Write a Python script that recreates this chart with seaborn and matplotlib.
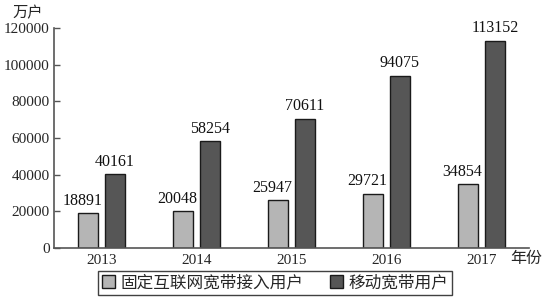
import matplotlib
matplotlib.use("Agg")
import matplotlib.pyplot as plt
import seaborn as sns
import pandas as pd

years = ["2013", "2014", "2015", "2016", "2017"]
fixed = [18891, 20048, 25947, 29721, 34854]
mobile = [40161, 58254, 70611, 94075, 113152]
series_names = ["固定互联网宽带接入用户", "移动宽带用户"]
yticks = [0, 20000, 40000, 60000, 80000, 100000, 120000]

sns.set_style("white")
plt.rcParams['font.family'] = ['Liberation Serif', 'Noto Sans CJK SC']

df = pd.DataFrame({
    "year": years * 2,
    "value": fixed + mobile,
    "series": [series_names[0]] * len(years) + [series_names[1]] * len(years),
})

fig = plt.figure(figsize=(5.48, 3.06), dpi=100)
ax = fig.add_axes([54/548, 1 - 248/306, 475/548, 220/306])

sns.barplot(data=df, x="year", y="value", hue="series", order=years,
            hue_order=series_names, palette=["#b5b5b5", "#565656"],
            width=0.56, gap=0.27, edgecolor="#1a1a1a", linewidth=1.0,
            ax=ax, legend=True)

for k, cont in enumerate(ax.containers):
    anns = ax.bar_label(cont, labels=[f"{int(v)}" for v in cont.datavalues],
                        padding=3, fontsize=11.5, color="#111111")
    if k == 0:
        for a in anns:
            a.xyann = (-4.3, 3)

ax.set_xlim(-0.5, len(years) - 0.5)
ax.set_ylim(0, 120000)
ax.set_yticks(yticks)
ax.set_yticklabels([str(t) for t in yticks], fontsize=11)
ax.set_xticks(range(len(years)))
ax.set_xticklabels(years, fontsize=11)
ax.set_xticks([i - 0.5 for i in range(len(years) + 1)], minor=True)
ax.tick_params(axis="x", which="major", length=0, pad=4)
ax.tick_params(axis="x", which="minor", direction="in", length=4, color="#555555", width=1)
ax.tick_params(axis="y", direction="in", length=4, color="#555555", width=1, pad=3, left=True)
ax.set_xlabel("")
ax.set_ylabel("")
for s in ["top", "right"]:
    ax.spines[s].set_visible(False)
for s in ["left", "bottom"]:
    ax.spines[s].set_color("#555555")
    ax.spines[s].set_linewidth(1.2)

ax.text(-0.088, 1.035, "万户", transform=ax.transAxes, fontsize=11, ha="left", va="bottom")
ax.text(0.995, -0.05, "年份", transform=ax.transAxes, fontsize=11.5, ha="center", va="center")

leg = ax.legend(loc="upper center", bbox_to_anchor=(0.4655, -0.105), ncol=2,
                frameon=True, fontsize=12, handlelength=0.75, handleheight=0.75,
                handletextpad=0.35, columnspacing=1.6, borderpad=0.25,
                borderaxespad=0, fancybox=False, edgecolor="#111111")
leg.get_frame().set_linewidth(1.0)

fig.savefig("out.png", dpi=100)
